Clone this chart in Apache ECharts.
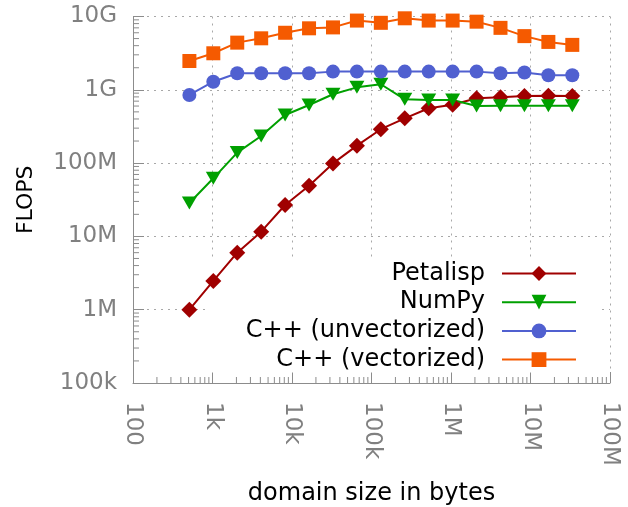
<!DOCTYPE html>
<html><head><meta charset="utf-8">
<script src="https://cdn.jsdelivr.net/npm/echarts@6/dist/echarts.min.js"></script>
<style>html,body{margin:0;padding:0;background:#fff}#c{width:628px;height:507px}</style>
</head><body><div id="c"></div>
<script>
const sizes = [512, 1024, 2048, 4096, 8192, 16384, 32768, 65536, 131072, 262144, 524288, 1048576, 2097152, 4194304, 8388608, 16777216, 33554432];
const petalisp = [1.0e6, 2.47e6, 6.0e6, 11.6e6, 26.8e6, 49e6, 99e6, 173e6, 290e6, 408e6, 560e6, 625e6, 766e6, 790e6, 823e6, 830e6, 823e6];
const numpy = [28.6e6, 62e6, 139e6, 234e6, 453e6, 621e6, 869e6, 1.08e9, 1.19e9, 741e6, 726e6, 726e6, 600e6, 605e6, 605e6, 605e6, 605e6];
const cppUnvec = [0.85e9, 1.29e9, 1.68e9, 1.68e9, 1.68e9, 1.68e9, 1.77e9, 1.77e9, 1.77e9, 1.77e9, 1.77e9, 1.77e9, 1.77e9, 1.68e9, 1.72e9, 1.58e9, 1.58e9];
const cppVec = [2.47e9, 3.15e9, 4.4e9, 5.04e9, 6.0e9, 6.9e9, 7.1e9, 8.8e9, 8.2e9, 9.45e9, 8.8e9, 8.8e9, 8.5e9, 7.0e9, 5.4e9, 4.5e9, 4.1e9];
const seriesNames = ['Petalisp', 'NumPy', 'C++ (unvectorized)', 'C++ (vectorized)'];
const xTickLabels = ['100', '1k', '10k', '100k', '1M', '10M', '100M'];
const yTickLabels = ['100k', '1M', '10M', '100M', '1G', '10G'];
const xDecades = [100, 1000, 10000, 100000, 1000000, 10000000];
const yDecades = [1e5, 1e6, 1e7, 1e8, 1e9];
const minorMult = [2, 3, 4, 5, 6, 7, 8, 9];

const xMinor = [];
xDecades.forEach(d => minorMult.forEach(m => xMinor.push(m * d)));
const yMinor = [];
yDecades.forEach(d => minorMult.forEach(m => yMinor.push(m * d)));

const FONT = 'DejaVu Sans';
const chart = echarts.init(document.getElementById('c'));

function pairs(vals) { return sizes.map((s, i) => [s, vals[i]]); }

const tickColor = '#8c8c8c';

const option = {
  animation: false,
  textStyle: { fontFamily: FONT },
  grid: { left: 133, right: 18, top: 16.5, bottom: 124, containLabel: false, outerBoundsMode: 'none' },
  xAxis: {
    type: 'log', logBase: 10, min: 100, max: 1e8, splitNumber: 6,
    axisLine: { lineStyle: { color: tickColor, width: 1 } },
    axisTick: { inside: true, length: 11, lineStyle: { color: tickColor } },
    axisLabel: {
      rotate: -90, margin: 19, color: '#808080', fontSize: 23, fontFamily: FONT,
      formatter: v => xTickLabels[Math.round(Math.log10(v)) - 2]
    },
    splitLine: { show: true, lineStyle: { color: '#a8a8a8', type: [2, 5], width: 1 } },
    name: 'domain size in bytes', nameLocation: 'middle', nameGap: 99,
    nameTextStyle: { fontSize: 24, color: '#000', fontFamily: FONT }
  },
  yAxis: {
    type: 'log', logBase: 10, min: 1e5, max: 1e10, splitNumber: 5,
    axisLine: { show: true, lineStyle: { color: tickColor, width: 1 } },
    axisTick: { show: true, inside: true, length: 11, lineStyle: { color: tickColor } },
    axisLabel: {
      margin: 16, color: '#808080', fontSize: 23, fontFamily: FONT,
      formatter: v => yTickLabels[Math.round(Math.log10(v)) - 5]
    },
    splitLine: { show: true, lineStyle: { color: '#a8a8a8', type: [2, 5], width: 1 } },
    name: 'FLOPS', nameLocation: 'middle', nameGap: 96,
    nameTextStyle: { fontSize: 22, color: '#000', fontFamily: FONT }
  },
  legend: {
    data: seriesNames, orient: 'vertical', right: 26, top: 258.5, align: 'right',
    itemWidth: 74, itemHeight: 18.5, itemGap: 4.7,
    textStyle: { fontSize: 24, color: '#000', lineHeight: 24, fontFamily: FONT, padding: [0, 12, 0, 0] },
    backgroundColor: '#fff', padding: [3, 25, 1, 38], z: 1, selectedMode: false
  },
  series: [
    { name: seriesNames[0], type: 'line', data: pairs(petalisp), symbol: 'diamond', symbolSize: 16,
      itemStyle: { color: '#a00000' }, lineStyle: { color: '#a00000', width: 2 }, z: 5 },
    { name: seriesNames[1], type: 'line', data: pairs(numpy), symbol: 'triangle', symbolRotate: 180, symbolSize: [15, 13],
      itemStyle: { color: '#00a000' }, lineStyle: { color: '#00a000', width: 2 }, z: 5 },
    { name: seriesNames[2], type: 'line', data: pairs(cppUnvec), symbol: 'circle', symbolSize: 14,
      itemStyle: { color: '#5060d0' }, lineStyle: { color: '#5060d0', width: 2 }, z: 5 },
    { name: seriesNames[3], type: 'line', data: pairs(cppVec), symbol: 'rect', symbolSize: 14,
      itemStyle: { color: '#f55a00' }, lineStyle: { color: '#f55a00', width: 2 }, z: 5 },
    { type: 'custom', coordinateSystem: 'cartesian2d', silent: true, z: 3, clip: false,
      data: xMinor.map(v => [v, 1e5]),
      renderItem: (params, api) => {
        const p = api.coord([api.value(0), api.value(1)]);
        return { type: 'line', shape: { x1: p[0], y1: p[1], x2: p[0], y2: p[1] - 6 }, style: { stroke: tickColor, lineWidth: 1 } };
      } },
    { type: 'custom', coordinateSystem: 'cartesian2d', silent: true, z: 3, clip: false,
      data: yMinor.map(v => [100, v]),
      renderItem: (params, api) => {
        const p = api.coord([api.value(0), api.value(1)]);
        return { type: 'line', shape: { x1: p[0], y1: p[1], x2: p[0] + 6, y2: p[1] }, style: { stroke: tickColor, lineWidth: 1 } };
      } }
  ]
};
chart.setOption(option);
</script>
</body></html>
